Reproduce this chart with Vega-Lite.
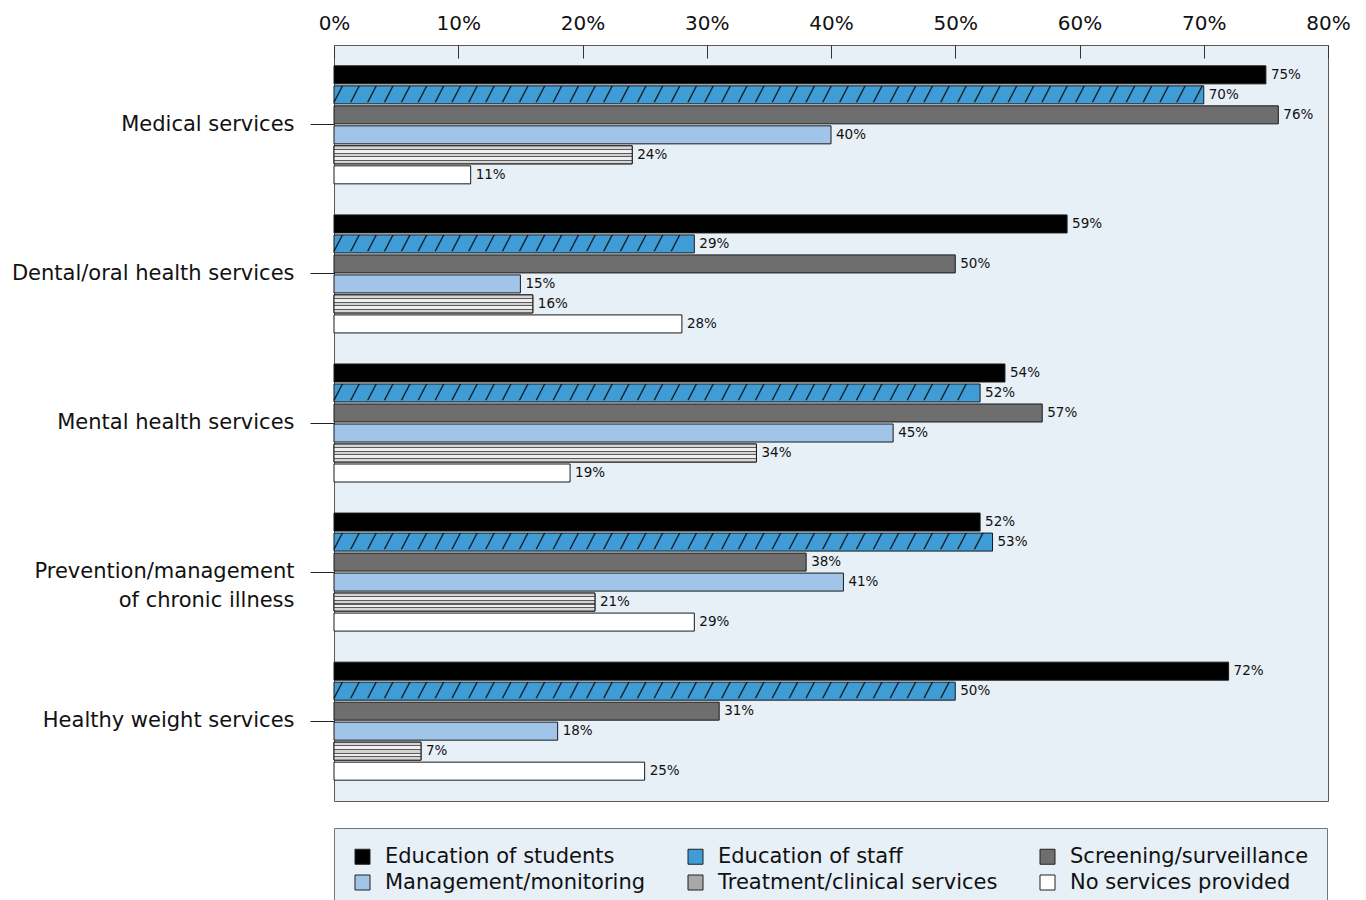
{
  "$schema": "https://vega.github.io/schema/vega-lite/v6.json",
  "width": 994,
  "height": 756,
  "autosize": {"type": "none"},
  "padding": {"left": 334, "top": 45, "right": 38, "bottom": 99},
  "background": "white",
  "config": {
    "view": {"fill": "#E7EFF7", "stroke": "#5a5a5a", "strokeWidth": 1},
    "font": "DejaVu Sans"
  },
  "data": {
    "values": [
      {"service": "Medical services", "type": "Education of students", "value": 75},
      {"service": "Medical services", "type": "Education of staff", "value": 70},
      {"service": "Medical services", "type": "Screening/surveillance", "value": 76},
      {"service": "Medical services", "type": "Management/monitoring", "value": 40},
      {"service": "Medical services", "type": "Treatment/clinical services", "value": 24},
      {"service": "Medical services", "type": "No services provided", "value": 11},
      {"service": "Dental/oral health services", "type": "Education of students", "value": 59},
      {"service": "Dental/oral health services", "type": "Education of staff", "value": 29},
      {"service": "Dental/oral health services", "type": "Screening/surveillance", "value": 50},
      {"service": "Dental/oral health services", "type": "Management/monitoring", "value": 15},
      {"service": "Dental/oral health services", "type": "Treatment/clinical services", "value": 16},
      {"service": "Dental/oral health services", "type": "No services provided", "value": 28},
      {"service": "Mental health services", "type": "Education of students", "value": 54},
      {"service": "Mental health services", "type": "Education of staff", "value": 52},
      {"service": "Mental health services", "type": "Screening/surveillance", "value": 57},
      {"service": "Mental health services", "type": "Management/monitoring", "value": 45},
      {"service": "Mental health services", "type": "Treatment/clinical services", "value": 34},
      {"service": "Mental health services", "type": "No services provided", "value": 19},
      {"service": "Prevention/management of chronic illness", "type": "Education of students", "value": 52},
      {"service": "Prevention/management of chronic illness", "type": "Education of staff", "value": 53},
      {"service": "Prevention/management of chronic illness", "type": "Screening/surveillance", "value": 38},
      {"service": "Prevention/management of chronic illness", "type": "Management/monitoring", "value": 41},
      {"service": "Prevention/management of chronic illness", "type": "Treatment/clinical services", "value": 21},
      {"service": "Prevention/management of chronic illness", "type": "No services provided", "value": 29},
      {"service": "Healthy weight services", "type": "Education of students", "value": 72},
      {"service": "Healthy weight services", "type": "Education of staff", "value": 50},
      {"service": "Healthy weight services", "type": "Screening/surveillance", "value": 31},
      {"service": "Healthy weight services", "type": "Management/monitoring", "value": 18},
      {"service": "Healthy weight services", "type": "Treatment/clinical services", "value": 7},
      {"service": "Healthy weight services", "type": "No services provided", "value": 25}
    ]
  },
  "encoding": {
    "y": {
      "field": "service",
      "type": "nominal",
      "sort": ["Medical services", "Dental/oral health services", "Mental health services", "Prevention/management of chronic illness", "Healthy weight services"],
      "scale": {"paddingInner": 0.195, "paddingOuter": 0.133},
      "axis": {
        "title": null,
        "domain": false,
        "tickSize": 24,
        "tickColor": "#222222",
        "labelPadding": 16,
        "labelFont": "DejaVu Sans",
        "labelFontSize": 21,
        "labelColor": "#111111",
        "labelLimit": 0,
        "labelLineHeight": 29,
        "labelExpr": "datum.label === 'Prevention/management of chronic illness' ? ['Prevention/management', 'of chronic illness'] : datum.label"
      }
    },
    "yOffset": {
      "field": "type",
      "type": "nominal",
      "sort": ["Education of students", "Education of staff", "Screening/surveillance", "Management/monitoring", "Treatment/clinical services", "No services provided"],
      "scale": {
        "domain": ["Education of students", "Education of staff", "Screening/surveillance", "Management/monitoring", "Treatment/clinical services", "No services provided"],
        "paddingInner": 0.1,
        "paddingOuter": 0.05
      }
    }
  },
  "layer": [
    {
      "mark": {"type": "bar", "stroke": "#1a1a1a", "strokeWidth": 1},
      "encoding": {
        "x": {
          "field": "value",
          "type": "quantitative",
          "scale": {"domain": [0, 80], "nice": false},
          "axis": {
            "orient": "top",
            "title": null,
            "values": [0, 10, 20, 30, 40, 50, 60, 70, 80],
            "labelExpr": "datum.value + '%'",
            "domain": false,
            "grid": false,
            "tickSize": -13,
            "tickColor": "#333333",
            "labelPadding": 25,
            "labelFont": "DejaVu Sans",
            "labelFontSize": 20,
            "labelColor": "#111111",
            "labelFlush": false
          }
        },
        "fill": {
          "field": "type",
          "type": "nominal",
          "scale": {
            "domain": ["Education of students", "Education of staff", "Screening/surveillance", "Management/monitoring", "Treatment/clinical services", "No services provided"],
            "range": ["#000000", "#409CD5", "#6E6E6E", "#A0C5E8", "#A8A8A8", "#FFFFFF"]
          },
          "legend": {
            "orient": "bottom",
            "direction": "horizontal",
            "columns": 3,
            "title": null,
            "offset": 27,
            "padding": 18,
            "fillColor": "#E7EFF7",
            "strokeColor": "#777777",
            "columnPadding": 39,
            "rowPadding": 4,
            "symbolType": "square",
            "symbolSize": 225,
            "symbolStrokeColor": "#222222",
            "symbolStrokeWidth": 1,
            "symbolOpacity": 1,
            "labelFont": "DejaVu Sans",
            "labelFontSize": 21,
            "labelColor": "#111111",
            "labelOffset": 12,
            "labelLimit": 0
          }
        }
      }
    },
    {
      "transform": [{"filter": "datum.type === 'Treatment/clinical services'"}],
      "mark": {
        "type": "bar",
        "stroke": "#1a1a1a",
        "strokeWidth": 1,
        "fill": {
          "gradient": "linear",
          "x1": 0, "y1": 0, "x2": 0, "y2": 1,
          "stops": [
            {"offset": 0, "color": "#D6D6D6"},
            {"offset": 0.175, "color": "#D6D6D6"},
            {"offset": 0.175, "color": "#5C5C5C"},
            {"offset": 0.235, "color": "#5C5C5C"},
            {"offset": 0.235, "color": "#EFEFEF"},
            {"offset": 0.375, "color": "#EFEFEF"},
            {"offset": 0.375, "color": "#5C5C5C"},
            {"offset": 0.435, "color": "#5C5C5C"},
            {"offset": 0.435, "color": "#D2D2D2"},
            {"offset": 0.575, "color": "#D2D2D2"},
            {"offset": 0.575, "color": "#5C5C5C"},
            {"offset": 0.635, "color": "#5C5C5C"},
            {"offset": 0.635, "color": "#EFEFEF"},
            {"offset": 0.775, "color": "#EFEFEF"},
            {"offset": 0.775, "color": "#5C5C5C"},
            {"offset": 0.835, "color": "#5C5C5C"},
            {"offset": 0.835, "color": "#D6D6D6"},
            {"offset": 1, "color": "#D6D6D6"}
          ]
        }
      },
      "encoding": {
        "x": {"field": "value", "type": "quantitative"}
      }
    },
    {
      "transform": [{"filter": "datum.type === 'Education of staff'"}],
      "mark": {
        "type": "text",
        "text": "╱ ╱ ╱ ╱ ╱ ╱ ╱ ╱ ╱ ╱ ╱ ╱ ╱ ╱ ╱ ╱ ╱ ╱ ╱ ╱ ╱ ╱ ╱ ╱ ╱ ╱ ╱ ╱ ╱ ╱ ╱ ╱ ╱ ╱ ╱ ╱ ╱ ╱ ╱ ╱ ╱ ╱ ╱ ╱ ╱ ╱ ╱ ╱ ╱ ╱ ╱ ╱ ╱ ╱ ╱ ╱ ╱ ╱ ╱ ╱ ",
        "font": "DejaVu Sans Mono",
        "fontSize": 14,
        "align": "left",
        "baseline": "middle",
        "color": "#000000",
        "limit": {"expr": "scale('x', datum.value)"},
        "ellipsis": "\u200b"
      },
      "encoding": {
        "x": {"datum": 0, "type": "quantitative"}
      }
    },
    {
      "transform": [{"calculate": "datum.value + '%'", "as": "label"}],
      "mark": {
        "type": "text",
        "align": "left",
        "baseline": "middle",
        "dx": 5,
        "font": "DejaVu Sans",
        "fontSize": 13.5,
        "color": "#111111"
      },
      "encoding": {
        "x": {"field": "value", "type": "quantitative"},
        "text": {"field": "label"}
      }
    }
  ]
}
